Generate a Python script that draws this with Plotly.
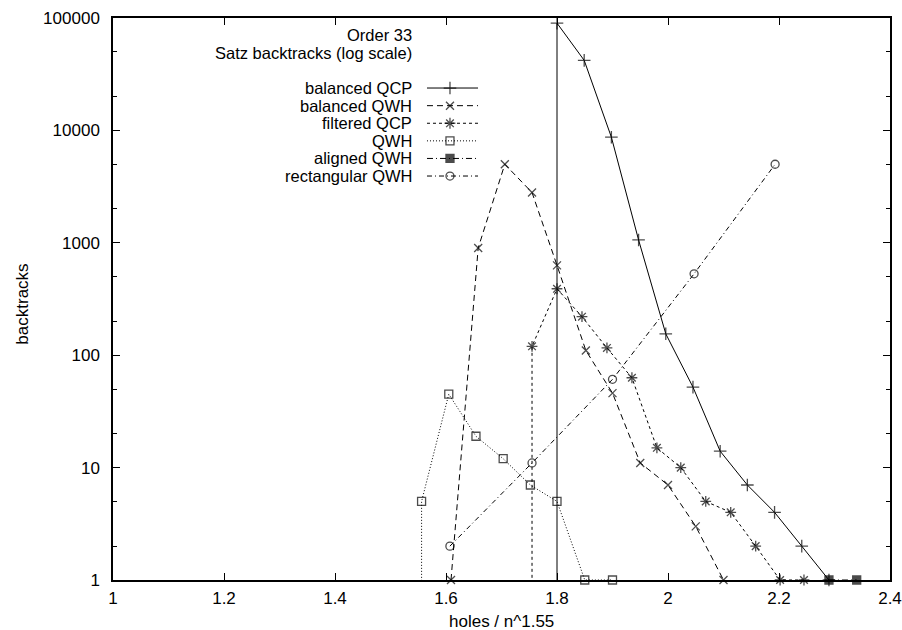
import plotly.graph_objects as go

# ---------------- data ----------------
bal_qcp_x = [1.80, 1.80, 1.849, 1.898, 1.947, 1.996, 2.045, 2.094, 2.143, 2.192, 2.241, 2.29]
bal_qcp_y = [0.5, 90000, 42000, 8700, 1060, 155, 52, 14, 7, 4, 2, 1]

bal_qwh_x = [1.609, 1.658, 1.706, 1.755, 1.80, 1.852, 1.90, 1.95, 2.0, 2.05, 2.1]
bal_qwh_y = [1, 900, 5000, 2800, 630, 110, 46, 11, 7, 3, 1]

filt_qcp_x = [1.755, 1.755, 1.80, 1.845, 1.890, 1.935, 1.980, 2.023, 2.068, 2.113, 2.158, 2.202, 2.245]
filt_qcp_y = [0.5, 120, 390, 220, 116, 63, 15, 10, 5, 4, 2, 1, 1]

qwh_x = [1.556, 1.556, 1.605, 1.654, 1.703, 1.752, 1.80, 1.85, 1.90]
qwh_y = [0.5, 5, 45, 19, 12, 7, 5, 1, 1]

aligned_x = [2.29, 2.34]
aligned_y = [1, 1]

rect_x = [1.607, 1.755, 1.90, 2.047, 2.193]
rect_y = [2, 11, 61, 530, 5000]

series_names = ["balanced QCP", "balanced QWH", "filtered QCP", "QWH", "aligned QWH", "rectangular QWH"]

x_ticks = [1, 1.2, 1.4, 1.6, 1.8, 2, 2.2, 2.4]
x_tick_text = ["1", "1.2", "1.4", "1.6", "1.8", "2", "2.2", "2.4"]
y_ticks = [1, 10, 100, 1000, 10000, 100000]
y_tick_text = ["1", "10", "100", "1000", "10000", "100000"]

title_lines = ["Order 33", "Satz backtracks (log scale)"]
x_title = "holes / n^1.55"
y_title = "backtracks"

# ---------------- styles ----------------
FONT = "Liberation Sans, Arial, Helvetica, sans-serif"
FS = 17
LEG_FS = 16.5
styles = [
    dict(dash="solid", symbol="cross-thin-open", size=9),
    dict(dash="6px,4px", symbol="x-thin-open", size=8),
    dict(dash="3px,3px", symbol="asterisk-open", size=9),
    dict(dash="1px,2px", symbol="square-open", size=8),
    dict(dash="6px,3px,1px,3px", symbol="square", size=8),
    dict(dash="5px,3px,1px,3px", symbol="circle-open", size=8),
]
data = [
    (bal_qcp_x, bal_qcp_y),
    (bal_qwh_x, bal_qwh_y),
    (filt_qcp_x, filt_qcp_y),
    (qwh_x, qwh_y),
    (aligned_x, aligned_y),
    (rect_x, rect_y),
]

fig = go.Figure()
for name, (xs, ys), st in zip(series_names, data, styles):
    sizes = [st["size"] if y >= 1 else 0 for y in ys]
    fig.add_trace(go.Scatter(
        x=xs, y=ys, mode="lines+markers", name=name, showlegend=False,
        cliponaxis=False,
        line=dict(color="black", width=1, dash=st["dash"]),
        marker=dict(symbol=st["symbol"], size=sizes, color="black",
                    line=dict(color="black", width=1.3)),
    ))

# ---------------- legend (drawn on an overlay axis in [0,1]) ----------------
leg_text_x = 0.3874
leg_line_x0, leg_line_x1, leg_mark_x = 0.4041, 0.4698, 0.4337
leg_rows = [0.8754, 0.8440, 0.8127, 0.7814, 0.7501, 0.7188]
for name, st, ry in zip(series_names, styles, leg_rows):
    fig.add_trace(go.Scatter(
        x=[leg_line_x0, leg_mark_x, leg_line_x1], y=[ry, ry, ry],
        xaxis="x2", yaxis="y2", mode="lines+markers", showlegend=False,
        hoverinfo="skip", cliponaxis=False,
        line=dict(color="black", width=1, dash=st["dash"]),
        marker=dict(symbol=st["symbol"], size=[0, st["size"], 0], color="black",
                    line=dict(color="black", width=1.3)),
    ))
    fig.add_annotation(x=leg_text_x, y=ry, xref="x2", yref="y2", text=name,
                       showarrow=False, xanchor="right", yanchor="middle",
                       font=dict(family=FONT, size=LEG_FS, color="black"))

for ty, t in zip([0.9698, 0.9377], title_lines):
    fig.add_annotation(x=leg_text_x, y=ty, xref="x2", yref="y2", text=t,
                       showarrow=False, xanchor="right", yanchor="middle",
                       font=dict(family=FONT, size=LEG_FS, color="black"))

# axis titles
fig.add_annotation(x=0.5, y=-0.073, xref="paper", yref="paper", text=x_title,
                   showarrow=False, xanchor="center", yanchor="middle",
                   font=dict(family=FONT, size=FS, color="black"))
fig.add_annotation(x=-0.1158, y=0.49, xref="paper", yref="paper", text=y_title,
                   showarrow=False, xanchor="center", yanchor="middle", textangle=-90,
                   font=dict(family=FONT, size=FS, color="black"))

axis_common = dict(showgrid=False, zeroline=False, showline=True, linecolor="black",
                   linewidth=1.5, mirror="allticks", ticks="inside", tickcolor="black",
                   tickwidth=1, ticklen=7, automargin=False,
                   tickfont=dict(family=FONT, size=FS, color="black"))

fig.update_layout(
    width=902, height=630,
    margin=dict(l=113, r=12, t=18, b=50, autoexpand=False),
    paper_bgcolor="white", plot_bgcolor="white",
    showlegend=False,
    xaxis=dict(range=[1, 2.4], tickmode="array", tickvals=x_ticks, ticktext=x_tick_text,
               ticklabelstandoff=2, **axis_common),
    yaxis=dict(type="log", range=[0, 5], tickmode="array", tickvals=y_ticks,
               ticktext=y_tick_text, ticklabelstandoff=8,
               minor=dict(ticks="inside", ticklen=4, tickcolor="black", tickwidth=1,
                          tickvals=[2, 5, 20, 50, 200, 500, 2000, 5000, 20000, 50000]),
               **axis_common),
    xaxis2=dict(overlaying="x", range=[0, 1], visible=False),
    yaxis2=dict(overlaying="y", range=[0, 1], visible=False),
)

fig.write_html("out.html")
